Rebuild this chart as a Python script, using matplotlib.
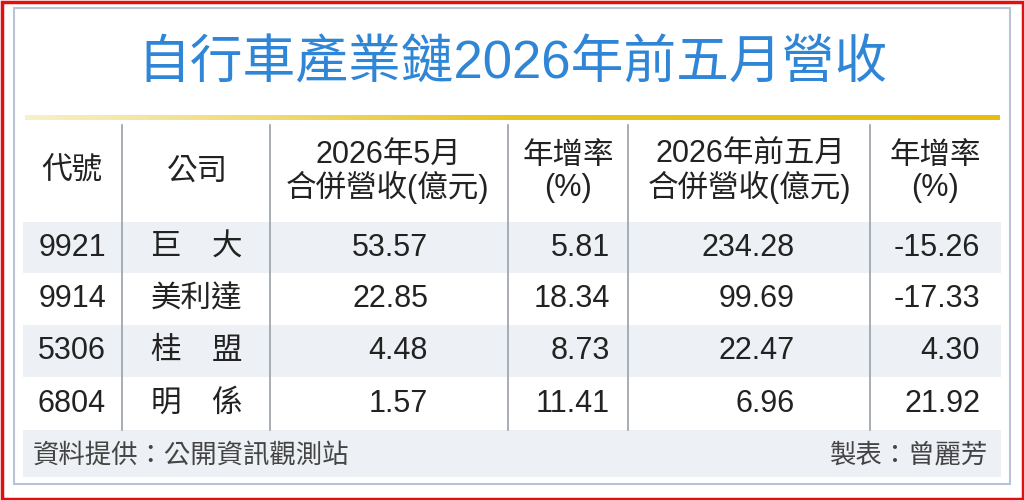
import matplotlib
matplotlib.use("Agg")
import matplotlib.pyplot as plt
import numpy as np
from matplotlib.patches import Rectangle
from matplotlib.colors import LinearSegmentedColormap

title = "自行車產業鏈2026年前五月營收"
headers = ["代號", "公司", "2026年5月\n合併營收(億元)", "年增率\n(%)", "2026年前五月\n合併營收(億元)", "年增率\n(%)"]
codes = ["9921", "9914", "5306", "6804"]
companies = ["巨　大", "美利達", "桂　盟", "明　係"]
rev_may = ["53.57", "22.85", "4.48", "1.57"]
yoy_may = ["5.81", "18.34", "8.73", "11.41"]
rev_ytd = ["234.28", "99.69", "22.47", "6.96"]
yoy_ytd = ["-15.26", "-17.33", "4.30", "21.92"]
source = "資料提供：公開資訊觀測站"
author = "製表：曾麗芳"

fam = ['Liberation Sans', 'Noto Sans CJK TC', 'DejaVu Sans']
plt.rcParams['font.family'] = fam
fig = plt.figure(figsize=(10.24, 5.0), dpi=100)
ax = fig.add_axes([0, 0, 1, 1])
ax.axis('off')

ax.add_patch(Rectangle((1.5, 1.5), 1021, 497, fill=False, ec='#e01010', lw=2.5))
ax.add_patch(Rectangle((14, 8), 996, 476, fill=False, ec='#b8c4d4', lw=1.5))

ax.text(512, 64, title, ha='center', va='center', fontsize=38, color='#2f86d6')

grad = np.linspace(0, 1, 256)[None, :]
cm = LinearSegmentedColormap.from_list('g', ['#f8f0c8', '#e8c420', '#e6be10'])
ax.imshow(grad, cmap=cm, extent=(25, 1000, 120, 115), aspect='auto', zorder=1)
ax.set_xlim(0, 1024); ax.set_ylim(500, 0)

row_tops = [222, 273, 325, 377]
row_h = [51, 52, 52, 53]
band = '#edf0f4'
for i, (t, h) in enumerate(zip(row_tops, row_h)):
    if i % 2 == 0:
        ax.add_patch(Rectangle((23, t), 978, h, color=band, lw=0, zorder=0))
ax.add_patch(Rectangle((23, 430), 978, 47, color=band, lw=0, zorder=0))

for x in [122, 270, 508, 628, 870]:
    ax.plot([x, x], [125, 430], color='#9aa0a8', lw=1.2)

txt = '#222222'
hx = [72, 197, 388, 568, 750, 935]
for x, h in zip(hx, headers):
    ax.text(x, 172, h, ha='center', va='center', fontsize=22, color=txt, linespacing=1.05)

cols_r = [428, 610, 795, 980]
for i in range(4):
    y = row_tops[i] + row_h[i] / 2
    ax.text(72, y, codes[i], ha='center', va='center', fontsize=22, color=txt)
    ax.text(197, y, companies[i], ha='center', va='center', fontsize=22, color=txt)
    for x, v in zip(cols_r, [rev_may[i], yoy_may[i], rev_ytd[i], yoy_ytd[i]]):
        ax.text(x, y, v, ha='right', va='center', fontsize=22, color=txt)

ax.text(33, 455, source, ha='left', va='center', fontsize=19, color='#444444')
ax.text(988, 455, author, ha='right', va='center', fontsize=19, color='#444444')

fig.savefig('out.png', dpi=100)
